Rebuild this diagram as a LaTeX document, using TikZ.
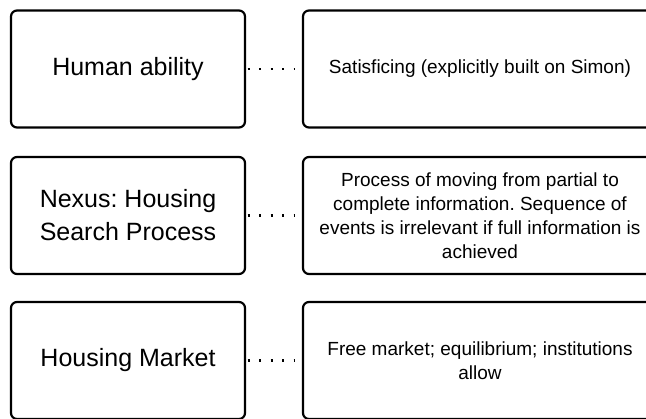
\documentclass[tikz,border=0pt]{standalone}
\usepackage{fontspec}
\setmainfont{Liberation Sans}
\frenchspacing
\begin{document}
\begin{tikzpicture}[x=1pt,y=-1pt,
  box/.style={draw=black,line width=2.2pt,rounded corners=6pt,rectangle,minimum height=117pt,inner sep=0pt,align=center},
  leftbox/.style={box,minimum width=234pt,font=\fontsize{25}{33}\selectfont},
  rightbox/.style={box,minimum width=354pt,font=\fontsize{19}{24}\selectfont},
  link/.style={line width=2.2pt,dash pattern=on 2.2pt off 9.3pt}]
\useasboundingbox (0,0) rectangle (646,419);
\clip (0,0) rectangle (646,419);
\node[leftbox] (l1) at (128,69) {Human ability};
\node[rightbox] (r1) at (480,69) {Satisficing (explicitly built on Simon)};
\node[leftbox] (l2) at (128,215.5) {Nexus: Housing\\Search Process};
\node[rightbox] (r2) at (480,215.5) {Process of moving from partial to\\complete information. Sequence of\\events is irrelevant if full information is\\achieved};
\node[leftbox] (l3) at (128,360.5) {Housing Market};
\node[rightbox] (r3) at (480,360.5) {Free market; equilibrium; institutions\\allow};
\draw[link] ([xshift=1.5pt]l1.east) -- ([xshift=-8pt]r1.west);
\draw[link] ([xshift=1.5pt]l2.east) -- ([xshift=-8pt]r2.west);
\draw[link] ([xshift=1.5pt]l3.east) -- ([xshift=-8pt]r3.west);
\end{tikzpicture}
\end{document}
